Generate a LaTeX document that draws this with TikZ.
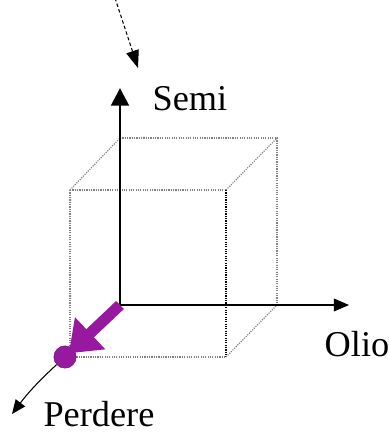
\documentclass[tikz,border=0pt]{standalone}
\usepackage{fontspec}
\setmainfont{Liberation Serif}
\usetikzlibrary{arrows.meta,positioning,calc}
\definecolor{plum}{RGB}{150,25,160}
\tikzset{
  edge/.style={gray, densely dotted, line width=1pt},
  frontedge/.style={black, densely dotted, line width=1pt},
  ax/.style={black, line width=0.9pt, -{Triangle[length=13pt,width=11pt]}},
  lbl/.style={font=\fontsize{31}{36}\selectfont, inner sep=0pt},
  move/.style={plum, line width=9.5pt, -{Triangle[length=25pt,width=36pt]}},
  pt/.style={circle, fill=plum, draw=plum!70!black, minimum size=19pt, inner sep=0pt},
}
\begin{document}
\begin{tikzpicture}[x=0.03cm, y=-0.03cm]
\useasboundingbox (0,0) rectangle (389,435);
% cube corners (back face / front face)
\coordinate (o) at (120,305);
\coordinate (btl) at (120,138);
\coordinate (btr) at (277,138);
\coordinate (bbr) at (277,305);
\coordinate (ftl) at (70,190);
\coordinate (ftr) at (226,190);
\coordinate (fbl) at (70,357);
\coordinate (fbr) at (226,357);
% axis ends
\coordinate (semi) at (120,88);
\coordinate (olio) at (349,305);
\coordinate (perd) at (12,414);
\coordinate (src) at (115,-2);
\coordinate (dst) at (138,68);
% labels
\node[lbl] (lsemi) at (190,99) {Semi};
\node[lbl] (lolio) at (357,344) {Olio};
\node[lbl] (lperd) at (99,414) {Perdere};
% cube
\draw[edge] (btl) -- (btr) -- (bbr);
\draw[edge] (ftl) -- (ftr);
\draw[edge] (ftl) -- (fbl) -- (fbr);
\draw[frontedge] (ftr) -- (fbr);
\draw[edge] (ftl) -- (btl);
\draw[edge] (ftr) -- (btr);
\draw[edge] (fbr) -- (bbr);
% axes
\draw[ax, line width=2.5pt, -{Triangle[length=15pt,width=15pt]}] (o) -- (semi);
\draw[ax] (o) -- (olio);
\node[pt] (dot) at (65,357) {};
\draw[ax, -{Triangle[length=12pt,width=10pt]}] (dot) to[bend right=5] (perd);
\draw[move] (o) -- ($(dot)!0.07!(o)$);
% incoming arrow
\draw[ax, densely dashed, -{Triangle[length=15pt,width=11pt]}] (src) -- (dst);
\end{tikzpicture}
\end{document}
